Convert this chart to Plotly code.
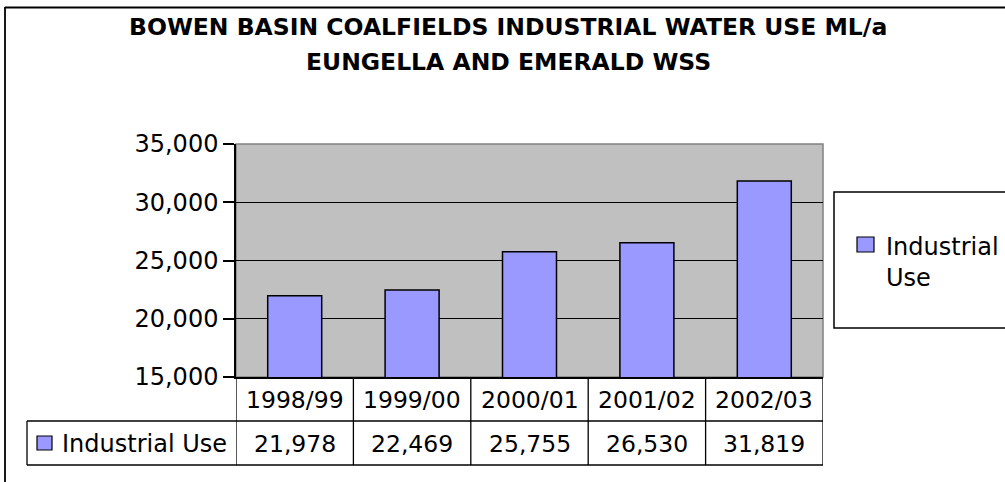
import plotly.graph_objects as go

categories = ["1998/99", "1999/00", "2000/01", "2001/02", "2002/03"]
industrial_use = [21978, 22469, 25755, 26530, 31819]
series_name = "Industrial Use"
title_lines = ["BOWEN BASIN COALFIELDS INDUSTRIAL WATER USE ML/a", "EUNGELLA AND EMERALD WSS"]
y_min, y_max, y_step = 15000, 35000, 5000

FONT = "DejaVu Sans"
BAR_COLOR = "#9999FF"

# plot-area pixel frame (screen coordinates)
L, R, T, B = 236, 823, 144, 377
W, H = R - L, B - T
SW, SH = 1005, 482


def px(x):
    return (x - L) / W


def py(y):
    return (B - y) / H


fig = go.Figure()
fig.add_trace(go.Bar(
    x=categories, y=industrial_use, name=series_name,
    marker=dict(color=BAR_COLOR, line=dict(color="black", width=1.5)),
    width=0.46, showlegend=False,
))

shapes = []
ann = []

# outer chart border
shapes.append(dict(type="line", xref="paper", yref="paper",
                   x0=px(5), x1=px(1010), y0=py(7.5), y1=py(7.5),
                   line=dict(color="black", width=1.8)))
shapes.append(dict(type="line", xref="paper", yref="paper",
                   x0=px(5), x1=px(5), y0=py(7), y1=py(490),
                   line=dict(color="black", width=1.8)))
# plot area border (top/right grey)
shapes.append(dict(type="rect", xref="paper", yref="paper",
                   x0=0, x1=1, y0=0, y1=1,
                   line=dict(color="#808080", width=1.5), layer="below"))

# data table
row1_top, row1_bot, row2_bot = B, 421, 465
tbl_left = 27
for i in range(len(categories) + 1):
    shapes.append(dict(type="line", xref="x", yref="paper",
                       x0=i - 0.5, x1=i - 0.5, y0=py(row1_top), y1=py(row2_bot),
                       line=dict(color="black", width=1.3)))
shapes.append(dict(type="line", xref="paper", yref="paper",
                   x0=px(tbl_left), x1=1, y0=py(row1_bot), y1=py(row1_bot),
                   line=dict(color="black", width=1.3)))
shapes.append(dict(type="line", xref="paper", yref="paper",
                   x0=px(tbl_left), x1=1, y0=py(row2_bot), y1=py(row2_bot),
                   line=dict(color="black", width=1.3)))
shapes.append(dict(type="line", xref="paper", yref="paper",
                   x0=px(tbl_left), x1=px(tbl_left), y0=py(row1_bot), y1=py(row2_bot),
                   line=dict(color="black", width=1.3)))
# legend key in table
shapes.append(dict(type="rect", xref="paper", yref="paper",
                   x0=px(37), x1=px(52), y0=py(450), y1=py(436),
                   fillcolor=BAR_COLOR, line=dict(color="black", width=1.2)))
ann.append(dict(xref="paper", yref="paper", x=px(60), y=py(444),
                text=series_name, showarrow=False, xanchor="left", yanchor="middle",
                font=dict(family=FONT, size=24, color="black")))

for c, v in zip(categories, industrial_use):
    ann.append(dict(xref="x", yref="paper", x=c, y=py(400), text=c, showarrow=False,
                    xanchor="center", yanchor="middle",
                    font=dict(family=FONT, size=23.5, color="black")))
    ann.append(dict(xref="x", yref="paper", x=c, y=py(444), text=f"{v:,}", showarrow=False,
                    xanchor="center", yanchor="middle",
                    font=dict(family=FONT, size=23.5, color="black")))

# legend box
shapes.append(dict(type="rect", xref="paper", yref="paper",
                   x0=px(834), x1=px(1015), y0=py(192), y1=py(328),
                   line=dict(color="black", width=1.5), fillcolor="white"))
shapes.append(dict(type="rect", xref="paper", yref="paper",
                   x0=px(857), x1=px(874), y0=py(252), y1=py(237),
                   fillcolor=BAR_COLOR, line=dict(color="black", width=1.2)))
ann.append(dict(xref="paper", yref="paper", x=px(884), y=py(262),
                text=series_name.replace(" ", "<br>"), showarrow=False,
                xanchor="left", yanchor="middle", align="left",
                font=dict(family=FONT, size=24, color="black")))

# title
for i, t in enumerate(title_lines):
    ann.append(dict(xref="paper", yref="paper", x=px(508), y=py(27 + 35 * i),
                    text=f"<b>{t}</b>", showarrow=False, xanchor="center", yanchor="middle",
                    font=dict(family=FONT, size=23.5, color="black")))

fig.update_layout(
    width=SW, height=SH,
    margin=dict(l=L, r=SW - R, t=T, b=SH - B, pad=0),
    paper_bgcolor="white", plot_bgcolor="#C0C0C0",
    shapes=shapes, annotations=ann,
    xaxis=dict(range=[-0.5, len(categories) - 0.5], showticklabels=False, ticks="",
               showgrid=False, showline=True, linecolor="black", linewidth=1.5, zeroline=False),
    yaxis=dict(range=[y_min, y_max], dtick=y_step, tick0=y_min, tickformat=",",
               ticks="outside", ticklen=11, tickcolor="black", tickwidth=1.5,
               showgrid=True, gridcolor="black", gridwidth=1.2,
               showline=True, linecolor="black", linewidth=1.5, zeroline=False,
               tickfont=dict(family=FONT, size=24, color="black")),
    font=dict(family=FONT),
)

fig.write_html(
    "out.html",
    config={"displayModeBar": False},
    post_script="document.body.style.margin='0';document.body.style.overflow='hidden';",
)
